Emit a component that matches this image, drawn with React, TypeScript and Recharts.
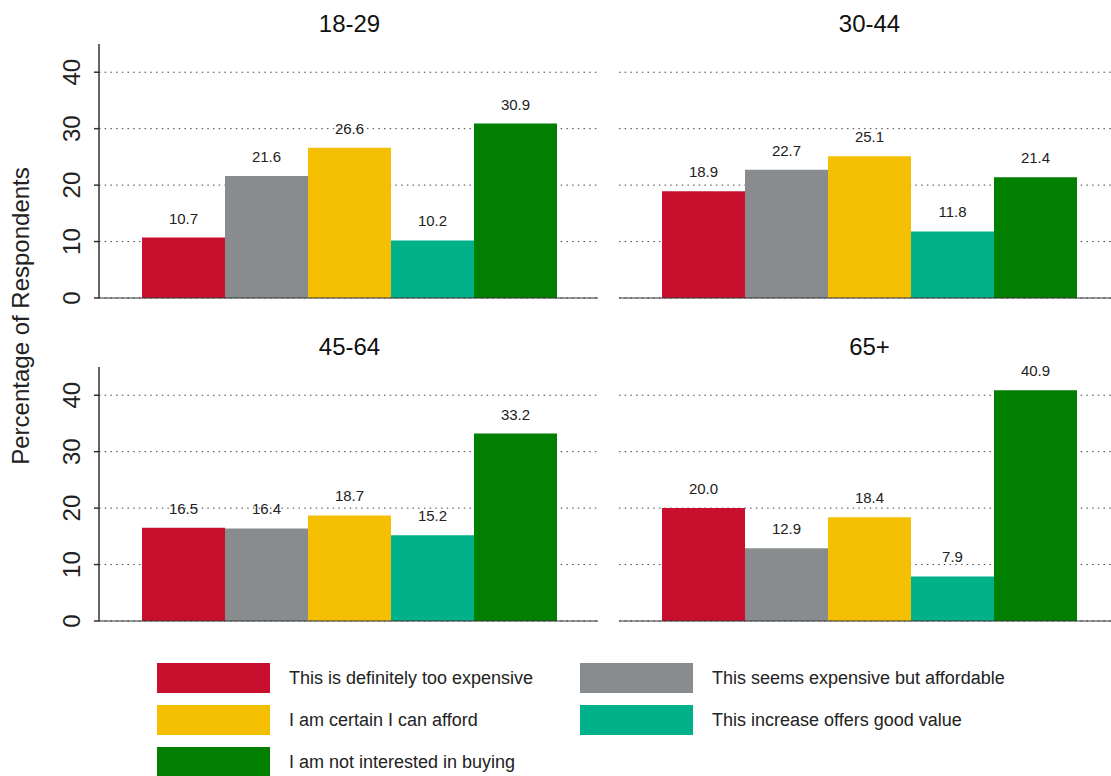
import React from 'react';
import { Bar, BarChart, CartesianGrid, LabelList, XAxis, YAxis } from 'recharts';

const ageGroups = ['18-29', '30-44', '45-64', '65+'];
const responseLabels = [
    'This is definitely too expensive',
    'This seems expensive but affordable',
    'I am certain I can afford',
    'This increase offers good value',
    'I am not interested in buying',
];
const responseColors = ['#C8102E', '#898C8E', '#F4BF00', '#00B189', '#007F00'];

const tooExpensive = [10.7, 18.9, 16.5, 20.0];
const expensiveButAffordable = [21.6, 22.7, 16.4, 12.9];
const certainCanAfford = [26.6, 25.1, 18.7, 18.4];
const goodValue = [10.2, 11.8, 15.2, 7.9];
const notInterested = [30.9, 21.4, 33.2, 40.9];

const yTicks = [0, 10, 20, 30, 40];

const seriesKeys = ['tooExpensive', 'expensiveButAffordable', 'certainCanAfford', 'goodValue', 'notInterested'];
const seriesValues = [tooExpensive, expensiveButAffordable, certainCanAfford, goodValue, notInterested];

const FONT = '"Liberation Sans", Arial, sans-serif';

// panel frames: left column shows the y axis, right column does not
const panels = [
    { left: 0, top: 0, width: 600, marginLeft: 0, axis: true, padLeft: 43, padRight: 41 },
    { left: 600, top: 0, width: 511, marginLeft: 19, axis: false, padLeft: 43, padRight: 34 },
    { left: 0, top: 323, width: 600, marginLeft: 0, axis: true, padLeft: 43, padRight: 41 },
    { left: 600, top: 323, width: 511, marginLeft: 19, axis: false, padLeft: 43, padRight: 34 },
];

const RotatedTick = (props: any) => {
    const { x, y, payload } = props;
    return (
        <text
            x={x}
            y={y}
            transform={`rotate(-90, ${x}, ${y})`}
            textAnchor="middle"
            fontSize={24}
            fontFamily={FONT}
            fill="#222"
        >
            {payload.value}
        </text>
    );
};

const Panel: React.FC<{ index: number }> = ({ index }) => {
    const p = panels[index];
    const row: Record<string, any> = { group: ageGroups[index] };
    seriesKeys.forEach((k, i) => {
        row[k] = seriesValues[i][index];
    });
    return (
        <div style={{ position: 'absolute', left: p.left, top: p.top }}>
            <BarChart
                width={p.width}
                height={310}
                data={[row]}
                margin={{ top: 44, right: p.axis ? 2 : 0, bottom: 11, left: p.marginLeft }}
                barCategoryGap={0}
                barGap={0}
            >
                <CartesianGrid
                    vertical={false}
                    horizontalValues={yTicks}
                    stroke="#444"
                    strokeDasharray="1.5 4.2"
                />
                <XAxis
                    dataKey="group"
                    height={1}
                    tick={false}
                    tickLine={false}
                    axisLine={{ stroke: '#333', strokeWidth: 1.2 }}
                    padding={{ left: p.padLeft, right: p.padRight }}
                />
                <YAxis
                    domain={[0, 45]}
                    ticks={yTicks}
                    hide={!p.axis}
                    width={99}
                    tickSize={5}
                    tickMargin={14}
                    axisLine={{ stroke: '#333', strokeWidth: 1.5 }}
                    tickLine={{ stroke: '#333', strokeWidth: 1.5 }}
                    tick={<RotatedTick />}
                />
                {seriesKeys.map((k, i) => (
                    <Bar key={k} dataKey={k} fill={responseColors[i]} isAnimationActive={false}>
                        <LabelList
                            dataKey={k}
                            position="top"
                            offset={14}
                            fontSize={15}
                            fontFamily={FONT}
                            fill="#222"
                            formatter={(v: any) => Number(v).toFixed(1)}
                        />
                    </Bar>
                ))}
            </BarChart>
        </div>
    );
};

export default function App() {
    const plotLeft = (i: number) => panels[i].left + (panels[i].axis ? 99 : panels[i].marginLeft);
    return (
        <div
            style={{
                position: 'absolute',
                left: 0,
                top: 0,
                width: 1111,
                height: 776,
                background: '#fff',
                fontFamily: FONT,
                overflow: 'hidden',
            }}
        >
            {ageGroups.map((_, i) => (
                <Panel key={i} index={i} />
            ))}
            <svg width={1111} height={776} style={{ position: 'absolute', left: 0, top: 0, pointerEvents: 'none' }}>
                {ageGroups.map((g, i) => (
                    <text
                        key={g}
                        x={plotLeft(i) + panels[i].padLeft + 207.5}
                        y={panels[i].top + 32}
                        textAnchor="middle"
                        fontSize={24}
                        fontFamily={FONT}
                        fill="#111"
                    >
                        {g}
                    </text>
                ))}
                <text
                    x={29}
                    y={316}
                    transform="rotate(-90, 29, 316)"
                    textAnchor="middle"
                    fontSize={24}
                    fontFamily={FONT}
                    fill="#222"
                >
                    Percentage of Respondents
                </text>
            </svg>
            {responseLabels.map((label, i) => {
                const col = i % 2;
                const r = Math.floor(i / 2);
                return (
                    <div
                        key={label}
                        style={{
                            position: 'absolute',
                            left: col === 0 ? 157 : 580,
                            top: 663 + r * 42,
                            height: 30,
                            display: 'flex',
                            alignItems: 'center',
                        }}
                    >
                        <div style={{ width: 113, height: 30, background: responseColors[i] }} />
                        <span style={{ marginLeft: 19, fontSize: 18, color: '#222', whiteSpace: 'nowrap' }}>{label}</span>
                    </div>
                );
            })}
        </div>
    );
}
